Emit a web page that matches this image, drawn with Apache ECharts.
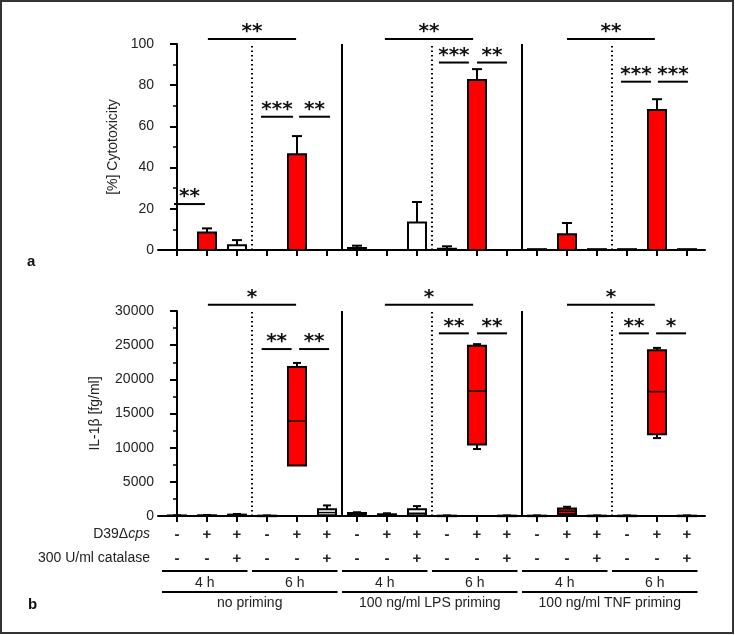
<!DOCTYPE html>
<html><head><meta charset="utf-8">
<script src="https://cdn.jsdelivr.net/npm/echarts@6/dist/echarts.min.js"></script>
<style>html,body{margin:0;padding:0;background:#fff}#c{width:735px;height:635px}</style>
</head><body><div id="c"></div>
<script>
// ---- data ----
const categories = ['NP 4h', 'NP 4h D39', 'NP 4h D39+cat', 'NP 6h', 'NP 6h D39', 'NP 6h D39+cat',
  'LPS 4h', 'LPS 4h D39', 'LPS 4h D39+cat', 'LPS 6h', 'LPS 6h D39', 'LPS 6h D39+cat',
  'TNF 4h', 'TNF 4h D39', 'TNF 4h D39+cat', 'TNF 6h', 'TNF 6h D39', 'TNF 6h D39+cat'];
const d39Row = ['-','+','+','-','+','+','-','+','+','-','+','+','-','+','+','-','+','+'];
const catalaseRow = ['-','-','+','-','-','+','-','-','+','-','-','+','-','-','+','-','-','+'];
const redBar = [0,1,0,0,1,0,0,1,0,0,1,0,0,1,0,0,1,0];
// [%] cytotoxicity: mean and top of error bar
const cytoMean = [0, 8.5, 2.3, 0, 46.5, 0, 1.0, 0, 13.3, 0.6, 82.5, 0, 0.4, 7.6, 0.4, 0.4, 68, 0.4];
const cytoErrTop = [null, 10.5, 4.8, null, 55.3, null, 2.1, null, 23.3, 1.8, 87.8, null, null, 13.1, null, null, 73.2, null];
// IL-1β [fg/ml]: min, q1, median, q3, max
const il1bBox = [
  [0, 0, 30, 80, 100], [0, 20, 50, 100, 150], [0, 50, 100, 200, 300],
  [0, 0, 20, 50, 80], [7400, 7400, 13900, 21800, 22400], [0, 100, 500, 1000, 1550],
  [0, 100, 250, 450, 550], [0, 50, 150, 250, 400], [0, 100, 400, 1000, 1450],
  [0, 0, 20, 50, 80], [9800, 10450, 18300, 24900, 25150], [0, 0, 20, 50, 80],
  [0, 0, 20, 50, 80], [150, 300, 700, 1100, 1350], [0, 0, 20, 50, 80],
  [0, 0, 20, 50, 80], [11400, 11950, 18200, 24250, 24600], [0, 0, 20, 50, 80]
];
// significance brackets: [from, to, y, label]
const sigTop = [
  [-0.1, 0.93, 22.3, '**'], [1.03, 3.97, 102.4, '**'], [2.8, 3.87, 64.7, '***'], [4.07, 5.1, 64.7, '**'],
  [6.93, 9.87, 102.4, '**'], [8.73, 9.73, 91.0, '***'], [10.0, 11.0, 91.0, '**'],
  [13.0, 15.93, 102.4, '**'], [14.8, 15.8, 81.7, '***'], [16.03, 17.03, 81.7, '***']
];
const sigBottom = [
  [1.03, 3.97, 30900, '*'], [2.82, 3.82, 24430, '**'], [4.07, 5.07, 24430, '**'],
  [6.93, 9.87, 30900, '*'], [8.73, 9.73, 26730, '**'], [10.0, 11.0, 26730, '**'],
  [13.0, 15.93, 30900, '*'], [14.73, 15.73, 26730, '**'], [15.97, 16.97, 26730, '*']
];
const solidSeparators = [5.5, 11.5];
const dottedSeparators = [2.5, 8.5, 14.5];
const timeGroups = [[0, 2, '4 h'], [3, 5, '6 h'], [6, 8, '4 h'], [9, 11, '6 h'], [12, 14, '4 h'], [15, 17, '6 h']];
const primingGroups = [[0, 5, 'no priming'], [6, 11, '100 ng/ml LPS priming'], [12, 17, '100 ng/ml TNF priming']];

// ---- chart ----
const FONT = '"Liberation Sans", Arial, sans-serif';
const TXT = '#222';
const chart = echarts.init(document.getElementById('c'), null, {renderer: 'canvas'});
const catIdx = categories.map((c, i) => i);

function xAxisDef(gi) {
  return {
    type: 'value', gridIndex: gi, min: -0.633, max: 17.6,
    axisLine: {show: true, onZero: false, lineStyle: {color: '#000', width: 2}},
    axisTick: {show: true, customValues: catIdx, length: 6, lineStyle: {color: '#000', width: 2}},
    axisLabel: {show: false}, splitLine: {show: false}
  };
}
function yAxisDef(gi, max, interval, name, gap) {
  return {
    type: 'value', gridIndex: gi, min: 0, max: max, interval: interval,
    name: name, nameLocation: 'middle', nameGap: gap,
    nameTextStyle: {fontFamily: FONT, fontSize: 14, color: TXT},
    axisLine: {show: true, lineStyle: {color: '#000', width: 2}},
    axisTick: {show: true, length: 7, lineStyle: {color: '#000', width: 2}},
    minorTick: {show: true, splitNumber: 2, length: 4, lineStyle: {color: '#000', width: 1.5}},
    axisLabel: {fontFamily: FONT, fontSize: 14, color: TXT, margin: 4, formatter: v => String(v)},
    splitLine: {show: false}
  };
}

function line(x1, y1, x2, y2, w, dash) {
  return {type: 'line', shape: {x1, y1, x2, y2}, style: {stroke: '#000', lineWidth: w || 2, lineDash: dash || null}};
}

function sigSeries(xi, list) {
  return {
    type: 'custom', xAxisIndex: xi, yAxisIndex: xi, clip: false, z: 5,
    data: list.map(s => [s[0], s[1], s[2]]),
    renderItem(params, api) {
      const a = api.coord([api.value(0), api.value(2)]);
      const b = api.coord([api.value(1), api.value(2)]);
      return {type: 'group', children: [
        line(a[0], a[1], b[0], b[1], 2),
        {type: 'text', style: {text: list[params.dataIndex][3], x: (a[0] + b[0]) / 2, y: a[1] + 3,
          align: 'center', verticalAlign: 'bottom', fontFamily: '"DejaVu Sans"', fontWeight: 'bold', fontSize: 20, fill: '#111'}}
      ]};
    }
  };
}

function sepSeries(xi, ymax) {
  const data = solidSeparators.map(x => [x, 0]).concat(dottedSeparators.map(x => [x, 1]));
  return {
    type: 'custom', xAxisIndex: xi, yAxisIndex: xi, clip: false, z: 1,
    data: data,
    renderItem(params, api) {
      const p0 = api.coord([api.value(0), 0]);
      const p1 = api.coord([api.value(0), ymax]);
      return api.value(1) ? line(p0[0], p0[1], p1[0], p1[1] - 1, 2, [1.5, 3]) : line(p0[0], p0[1], p1[0], p1[1], 2);
    }
  };
}

const option = {
  animation: false,
  backgroundColor: '#fff',
  grid: [
    {left: 158, top: 44, width: 547, height: 206},
    {left: 158, top: 311, width: 547, height: 205}
  ],
  xAxis: [xAxisDef(0), xAxisDef(1)],
  yAxis: [yAxisDef(0, 100, 20, '[%] Cytotoxicity', 38), yAxisDef(1, 30000, 5000, 'IL-1β [fg/ml]', 56)],
  series: [
    sepSeries(0, 100),
    sepSeries(1, 30000),
    {
      type: 'custom', xAxisIndex: 0, yAxisIndex: 0, clip: false, z: 3,
      data: cytoMean.map((v, i) => [i, v, cytoErrTop[i] == null ? v : cytoErrTop[i]]),
      renderItem(params, api) {
        const i = api.value(0), v = api.value(1), e = api.value(2);
        const base = api.coord([i, 0]), top = api.coord([i, v]), et = api.coord([i, e]);
        const ch = [];
        if (cytoErrTop[params.dataIndex] != null) {
          ch.push(line(top[0], top[1], et[0], et[1], 2));
          ch.push(line(top[0] - 5, et[1], top[0] + 5, et[1], 2));
        }
        if (v > 0) ch.push({type: 'rect', shape: {x: base[0] - 9, y: top[1], width: 18, height: base[1] - top[1]},
          style: {fill: redBar[params.dataIndex] ? '#ff0000' : '#fff', stroke: '#000', lineWidth: 2}});
        return {type: 'group', children: ch};
      }
    },
    {
      type: 'custom', xAxisIndex: 1, yAxisIndex: 1, clip: false, z: 3,
      data: il1bBox.map((b, i) => [i].concat(b)),
      renderItem(params, api) {
        const i = api.value(0);
        const pMin = api.coord([i, api.value(1)]), pQ1 = api.coord([i, api.value(2)]),
              pMed = api.coord([i, api.value(3)]), pQ3 = api.coord([i, api.value(4)]), pMax = api.coord([i, api.value(5)]);
        const x = pMed[0];
        const ch = [line(x, pMin[1], x, pMax[1], 2)];
        if (api.value(1) < api.value(2)) ch.push(line(x - 4, pMin[1], x + 4, pMin[1], 2));
        if (api.value(5) > api.value(4)) ch.push(line(x - 4, pMax[1], x + 4, pMax[1], 2));
        ch.push({type: 'rect', shape: {x: x - 9, y: pQ3[1], width: 18, height: Math.max(pQ1[1] - pQ3[1], 0.5)},
          style: {fill: redBar[params.dataIndex] ? '#ff0000' : '#fff', stroke: '#000', lineWidth: 2}});
        ch.push(line(x - 9, pMed[1], x + 9, pMed[1], 1.5));
        return {type: 'group', children: ch};
      }
    },
    sigSeries(0, sigTop),
    sigSeries(1, sigBottom),
    // table rows under bottom axis
    {
      type: 'custom', xAxisIndex: 1, yAxisIndex: 1, clip: false, z: 3,
      data: catIdx.map(i => [i, 0]),
      renderItem(params, api) {
        const p = api.coord([api.value(0), 0]);
        const st = (t, y) => ({type: 'text', style: {text: t, x: p[0], y: y, align: 'center', verticalAlign: 'middle',
          fontFamily: FONT, fontSize: 15, fontWeight: 'bold', fill: TXT}});
        return {type: 'group', children: [st(d39Row[params.dataIndex], p[1] + 19), st(catalaseRow[params.dataIndex], p[1] + 43)]};
      }
    },
    {
      type: 'custom', xAxisIndex: 1, yAxisIndex: 1, clip: false, z: 3,
      data: timeGroups.map(g => [g[0], g[1]]),
      renderItem(params, api) {
        const a = api.coord([api.value(0) - 0.5, 0]), b = api.coord([api.value(1) + 0.35, 0]);
        return {type: 'group', children: [
          line(a[0], a[1] + 55, b[0], b[1] + 55, 2),
          {type: 'text', style: {text: timeGroups[params.dataIndex][2], x: (a[0] + b[0]) / 2, y: a[1] + 67,
            align: 'center', verticalAlign: 'middle', fontFamily: FONT, fontSize: 14, fill: TXT}}
        ]};
      }
    },
    {
      type: 'custom', xAxisIndex: 1, yAxisIndex: 1, clip: false, z: 3,
      data: primingGroups.map(g => [g[0], g[1]]),
      renderItem(params, api) {
        const a = api.coord([api.value(0) - 0.5, 0]), b = api.coord([api.value(1) + 0.35, 0]);
        return {type: 'group', children: [
          line(a[0], a[1] + 76, b[0], b[1] + 76, 2),
          {type: 'text', style: {text: primingGroups[params.dataIndex][2], x: (a[0] + b[0]) / 2, y: a[1] + 87,
            align: 'center', verticalAlign: 'middle', fontFamily: FONT, fontSize: 14, fill: TXT}}
        ]};
      }
    }
  ],
  graphic: [
    {type: 'rect', shape: {x: 1, y: 1, width: 732, height: 632}, style: {fill: null, stroke: '#333', lineWidth: 2}, silent: true},
    {type: 'text', left: 27, top: 254, style: {text: 'a', fontFamily: FONT, fontWeight: 'bold', fontSize: 15, fill: '#111'}},
    {type: 'text', left: 28, top: 597, style: {text: 'b', fontFamily: FONT, fontWeight: 'bold', fontSize: 15, fill: '#111'}},
    {type: 'text', right: 585, top: 527, style: {
      text: '{n|D39Δ}{i|cps}', rich: {n: {fontFamily: FONT, fontSize: 14, fill: TXT}, i: {fontFamily: FONT, fontSize: 14, fontStyle: 'italic', fill: TXT}}}},
    {type: 'text', right: 585, top: 551, style: {text: '300 U/ml catalase', fontFamily: FONT, fontSize: 14, fill: TXT}}
  ]
};
chart.setOption(option);
</script>
</body></html>
